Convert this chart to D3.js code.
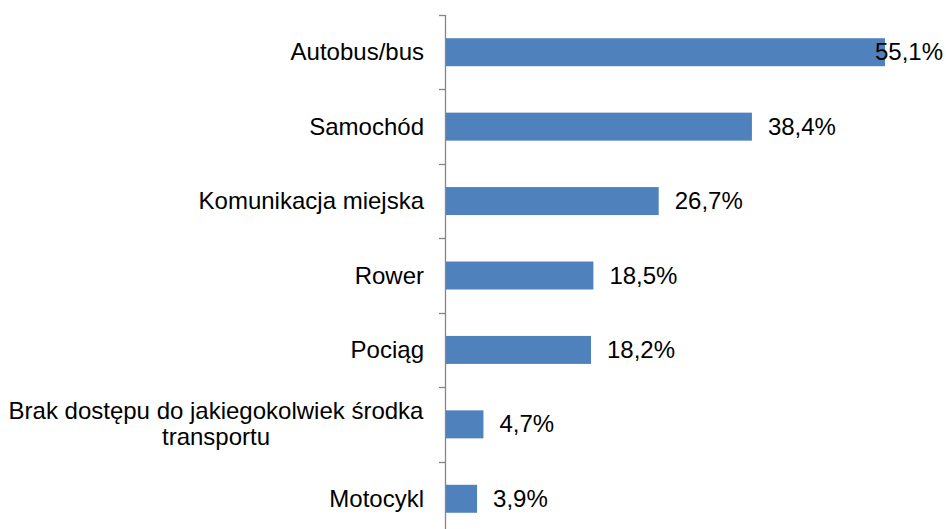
<!DOCTYPE html>
<html>
<head>
<meta charset="utf-8">
<script src="https://cdn.jsdelivr.net/npm/d3@7"></script>
<style>
  body { margin: 0; background: #fff; }
  text { font-family: Arial, "Liberation Sans", sans-serif; fill: #000; }
</style>
</head>
<body>
<div id="chart"></div>
<script>
// categories, top to bottom
const categories = [
    "Autobus/bus",
    "Samochód",
    "Komunikacja miejska",
    "Rower",
    "Pociąg",
    "Brak dostępu do jakiegokolwiek środka|transportu",
    "Motocykl"
];
const values = [55.1, 38.4, 26.7, 18.5, 18.2, 4.7, 3.9];

function BarChart(root){
    const width = 946, height = 529;
    const fontSize = 24;

    const svg = d3.select(root)
        .append('svg')
        .attr('width', width)
        .attr('height', height);

    const y = d3.scaleBand()
        .domain(categories)
        .range([15, 536])
        .padding(0);
    const x = d3.scaleLinear()
        .domain([0, 60])
        .range([446, 924]);

    const barH = y.bandwidth() * 0.376;

    // bars
    svg.selectAll('.bar')
        .data(categories)
        .enter().append('rect')
        .attr('class', 'bar')
        .attr('x', x(0))
        .attr('y', d => y(d) + (y.bandwidth() - barH) / 2)
        .attr('width', (d, i) => x(values[i]) - x(0))
        .attr('height', barH)
        .attr('fill', '#4f81bd');

    // axis line + ticks at band boundaries
    const ax = svg.append('g').attr('class', 'yaxis');
    ax.append('line')
        .attr('x1', 445.5).attr('x2', 445.5)
        .attr('y1', y.range()[0]).attr('y2', y.range()[1])
        .attr('stroke', '#868686').attr('stroke-width', 1.3);
    const bounds = categories.map(c => y(c)).concat([y.range()[1]]);
    ax.selectAll('.tick')
        .data(bounds)
        .enter().append('line')
        .attr('x1', 439).attr('x2', 445.5)
        .attr('y1', d => Math.round(d) + 0.5).attr('y2', d => Math.round(d) + 0.5)
        .attr('stroke', '#868686').attr('stroke-width', 1.3);

    // category labels
    categories.forEach(c => {
        const lines = c.split('|');
        const cy = y(c) + y.bandwidth() / 2;
        const lh = 26;
        const t = svg.append('text')
            .attr('font-size', fontSize)
            .attr('text-anchor', lines.length > 1 ? 'middle' : 'end');
        lines.forEach((ln, j) => {
            t.append('tspan')
                .attr('x', lines.length > 1 ? 216 : 424)
                .attr('y', cy + 8 + (j - (lines.length - 1) / 2) * lh)
                .text(ln);
        });
    });

    // value labels
    svg.selectAll('.val')
        .data(values)
        .enter().append('text')
        .attr('class', 'val')
        .attr('font-size', fontSize)
        .attr('y', (d, i) => y(categories[i]) + y.bandwidth() / 2 + 8)
        .text(d => d.toFixed(1).replace('.', ',') + '%')
        .attr('x', function(d){
            const w = this.getComputedTextLength();
            return Math.min(x(d) + 16, width - 3 - w);
        });
}

BarChart(document.getElementById('chart'));
</script>
</body>
</html>
